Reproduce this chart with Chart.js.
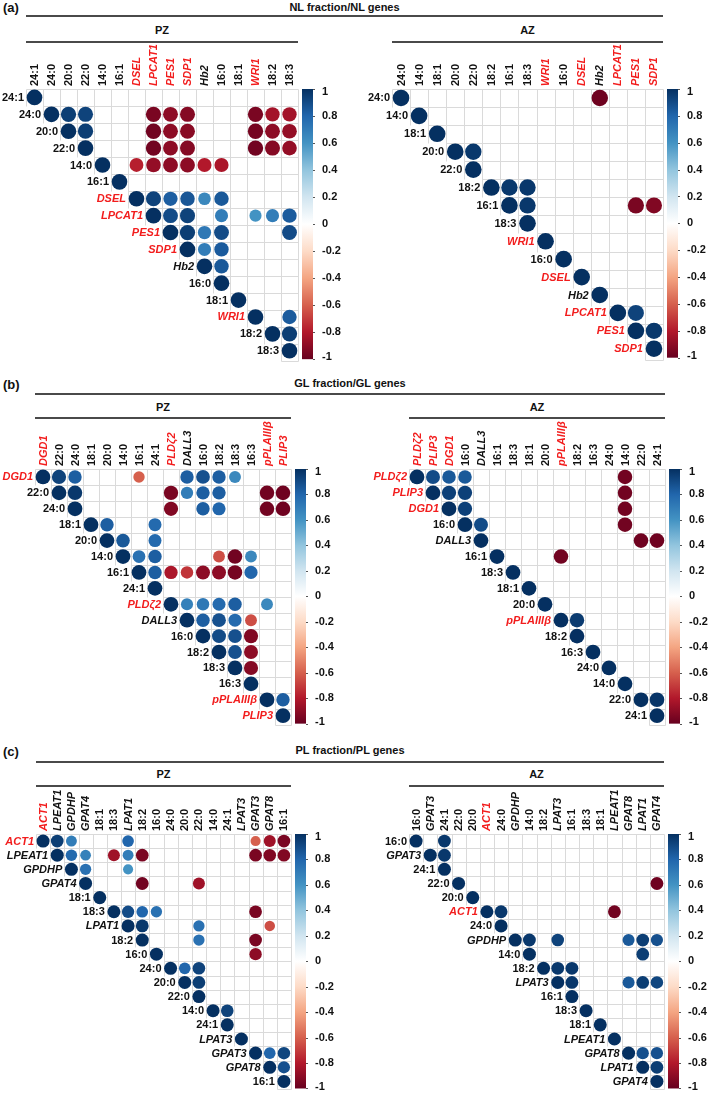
<!DOCTYPE html>
<html>
<head>
<meta charset="utf-8">
<script src="https://cdn.jsdelivr.net/npm/chart.js@4.4.1/dist/chart.umd.min.js"></script>
<style>
  html, body { margin: 0; padding: 0; overflow: hidden; background: #fff; }
  body { position: relative; width: 709px; height: 1099px; font-family: "Liberation Sans", Arial, sans-serif; }
  .t { position: absolute; font-weight: bold; font-size: 11px; line-height: 12px; color: #111; text-align: center; }
  .p { position: absolute; font-weight: bold; font-size: 13px; line-height: 14px; color: #111; }
  .rule { position: absolute; height: 2px; background: #4a4a4a; }
  canvas { position: absolute; }
</style>
</head>
<body>

<!-- (a) -->
<div class="p" style="left:3px;top:1px">(a)</div>
<div class="t" style="left:26px;width:637px;top:1px">NL fraction/NL genes</div>
<div class="rule" style="left:26px;width:637px;top:15px"></div>
<div class="t" style="left:26px;width:272px;top:24px">PZ</div>
<div class="rule" style="left:26px;width:272px;top:41px"></div>
<div class="t" style="left:392px;width:271px;top:24px">AZ</div>
<div class="rule" style="left:392px;width:271px;top:41px"></div>

<!-- (b) -->
<div class="p" style="left:3px;top:378px">(b)</div>
<div class="t" style="left:35px;width:630px;top:377px">GL fraction/GL genes</div>
<div class="rule" style="left:35px;width:630px;top:393px"></div>
<div class="t" style="left:35px;width:256px;top:401px">PZ</div>
<div class="rule" style="left:35px;width:256px;top:417px"></div>
<div class="t" style="left:409px;width:256px;top:401px">AZ</div>
<div class="rule" style="left:409px;width:256px;top:417px"></div>

<!-- (c) -->
<div class="p" style="left:3px;top:745px">(c)</div>
<div class="t" style="left:36px;width:628px;top:744px">PL fraction/PL genes</div>
<div class="rule" style="left:36px;width:628px;top:761px"></div>
<div class="t" style="left:36px;width:255px;top:768px">PZ</div>
<div class="rule" style="left:36px;width:255px;top:785px"></div>
<div class="t" style="left:409px;width:255px;top:768px">AZ</div>
<div class="rule" style="left:409px;width:255px;top:785px"></div>

<canvas id="nlPz"></canvas>
<canvas id="nlAz"></canvas>
<canvas id="glPz"></canvas>
<canvas id="glAz"></canvas>
<canvas id="plPz"></canvas>
<canvas id="plAz"></canvas>

<script>
// ===== DATA =====
const colorTicks = [1, 0.8, 0.6, 0.4, 0.2, 0, -0.2, -0.4, -0.6, -0.8, -1];

// (a) NL fraction / NL genes
const nlPzLabels = ['24:1', '24:0', '20:0', '22:0', '14:0', '16:1', 'DSEL', 'LPCAT1', 'PES1', 'SDP1', 'Hb2', '16:0', '18:1', 'WRI1', '18:2', '18:3'];
const nlPzRed = ['DSEL', 'LPCAT1', 'PES1', 'SDP1', 'WRI1'];
const nlPzCorr = [
    ['24:0', '20:0', 0.95], ['24:0', '22:0', 0.93], ['24:0', 'LPCAT1', -0.95], ['24:0', 'PES1', -0.9], ['24:0', 'SDP1', -0.92], ['24:0', 'WRI1', -0.95], ['24:0', '18:2', -0.84], ['24:0', '18:3', -0.84],
    ['20:0', '22:0', 0.95], ['20:0', 'LPCAT1', -0.97], ['20:0', 'PES1', -0.9], ['20:0', 'SDP1', -0.91], ['20:0', 'WRI1', -0.96], ['20:0', '18:2', -0.9], ['20:0', '18:3', -0.88],
    ['22:0', 'LPCAT1', -0.97], ['22:0', 'PES1', -0.9], ['22:0', 'SDP1', -0.92], ['22:0', 'WRI1', -0.97], ['22:0', '18:2', -0.92], ['22:0', '18:3', -0.88],
    ['14:0', 'DSEL', -0.78], ['14:0', 'LPCAT1', -0.88], ['14:0', 'PES1', -0.9], ['14:0', 'SDP1', -0.9], ['14:0', 'Hb2', -0.8], ['14:0', '16:0', -0.82],
    ['DSEL', 'LPCAT1', 0.93], ['DSEL', 'PES1', 0.83], ['DSEL', 'SDP1', 0.86], ['DSEL', 'Hb2', 0.65], ['DSEL', '16:0', 0.85],
    ['LPCAT1', 'PES1', 0.9], ['LPCAT1', 'SDP1', 0.93], ['LPCAT1', '16:0', 0.7], ['LPCAT1', 'WRI1', 0.6], ['LPCAT1', '18:2', 0.7], ['LPCAT1', '18:3', 0.84],
    ['PES1', 'SDP1', 0.95], ['PES1', 'Hb2', 0.72], ['PES1', '16:0', 0.9], ['PES1', '18:3', 0.9],
    ['SDP1', 'Hb2', 0.7], ['SDP1', '16:0', 0.84],
    ['Hb2', '16:0', 0.85],
    ['WRI1', '18:3', 0.84],
    ['18:2', '18:3', 0.95]
];

const nlAzLabels = ['24:0', '14:0', '18:1', '20:0', '22:0', '18:2', '16:1', '18:3', 'WRI1', '16:0', 'DSEL', 'Hb2', 'LPCAT1', 'PES1', 'SDP1'];
const nlAzRed = ['WRI1', 'DSEL', 'LPCAT1', 'PES1', 'SDP1'];
const nlAzCorr = [
    ['24:0', 'Hb2', -0.98],
    ['20:0', '22:0', 0.97],
    ['18:2', '16:1', 0.97], ['18:2', '18:3', 0.97],
    ['16:1', '18:3', 0.97], ['16:1', 'PES1', -0.95], ['16:1', 'SDP1', -0.93],
    ['LPCAT1', 'PES1', 0.93],
    ['PES1', 'SDP1', 0.97]
];

// (b) GL fraction / GL genes
const glPzLabels = ['DGD1', '22:0', '24:0', '18:1', '20:0', '14:0', '16:1', '24:1', 'PLDζ2', 'DALL3', '16:0', '18:2', '18:3', '16:3', 'pPLAIIIβ', 'PLIP3'];
const glPzRed = ['DGD1', 'PLDζ2', 'pPLAIIIβ', 'PLIP3'];
const glPzCorr = [
    ['DGD1', '22:0', 0.93], ['DGD1', '24:0', 0.83], ['DGD1', '16:1', -0.6], ['DGD1', 'DALL3', 0.83], ['DGD1', '16:0', 0.88], ['DGD1', '18:2', 0.83], ['DGD1', '18:3', 0.65],
    ['22:0', '24:0', 0.97], ['22:0', 'PLDζ2', -0.95], ['22:0', 'DALL3', 0.7], ['22:0', '16:0', 0.83], ['22:0', '18:2', 0.83], ['22:0', 'pPLAIIIβ', -0.97], ['22:0', 'PLIP3', -0.98],
    ['24:0', 'PLDζ2', -0.93], ['24:0', '16:0', 0.83], ['24:0', '18:2', 0.8], ['24:0', 'pPLAIIIβ', -0.97], ['24:0', 'PLIP3', -0.98],
    ['18:1', '20:0', 0.83], ['18:1', '24:1', 0.78],
    ['20:0', '14:0', 0.85], ['20:0', '24:1', 0.78],
    ['14:0', '16:1', 0.75], ['14:0', '24:1', 0.83], ['14:0', '18:2', -0.65], ['14:0', '18:3', -0.97], ['14:0', '16:3', 0.65],
    ['16:1', '24:1', 0.83], ['16:1', 'PLDζ2', -0.82], ['16:1', 'DALL3', -0.72], ['16:1', '16:0', -0.9], ['16:1', '18:2', -0.9], ['16:1', '18:3', -0.96], ['16:1', '16:3', 0.8],
    ['PLDζ2', 'DALL3', 0.68], ['PLDζ2', '16:0', 0.72], ['PLDζ2', '18:2', 0.78], ['PLDζ2', '18:3', 0.83], ['PLDζ2', 'pPLAIIIβ', 0.65],
    ['DALL3', '16:0', 0.83], ['DALL3', '18:2', 0.88], ['DALL3', '18:3', 0.78], ['DALL3', '16:3', -0.65],
    ['16:0', '18:2', 0.9], ['16:0', '18:3', 0.88], ['16:0', '16:3', -0.93],
    ['18:2', '18:3', 0.88], ['18:2', '16:3', -0.9],
    ['18:3', '16:3', -0.92],
    ['pPLAIIIβ', 'PLIP3', 0.83]
];

const glAzLabels = ['PLDζ2', 'PLIP3', 'DGD1', '16:0', 'DALL3', '16:1', '18:3', '18:1', '20:0', 'pPLAIIIβ', '18:2', '16:3', '24:0', '14:0', '22:0', '24:1'];
const glAzRed = ['PLDζ2', 'PLIP3', 'DGD1', 'pPLAIIIβ'];
const glAzCorr = [
    ['PLDζ2', 'PLIP3', 0.9], ['PLDζ2', 'DGD1', 0.85], ['PLDζ2', '16:0', 0.85], ['PLDζ2', '14:0', -0.97],
    ['PLIP3', 'DGD1', 0.94], ['PLIP3', '16:0', 0.94], ['PLIP3', '14:0', -0.97],
    ['DGD1', '16:0', 0.94], ['DGD1', '14:0', -0.97],
    ['16:0', 'DALL3', 0.9], ['16:0', '14:0', -0.97],
    ['DALL3', '22:0', -0.98], ['DALL3', '24:1', -0.98],
    ['16:1', 'pPLAIIIβ', -0.97],
    ['pPLAIIIβ', '18:2', 0.96],
    ['22:0', '24:1', 0.98]
];

// (c) PL fraction / PL genes
const plPzLabels = ['ACT1', 'LPEAT1', 'GPDHP', 'GPAT4', '18:1', '18:3', 'LPAT1', '18:2', '16:0', '24:0', '20:0', '22:0', '14:0', '24:1', 'LPAT3', 'GPAT3', 'GPAT8', '16:1'];
const plPzRed = ['ACT1'];
const plPzCorr = [
    ['ACT1', 'LPEAT1', 0.95], ['ACT1', 'GPDHP', 0.7], ['ACT1', 'LPAT1', 0.8], ['ACT1', 'GPAT3', -0.6], ['ACT1', 'GPAT8', -0.85], ['ACT1', '16:1', -0.95],
    ['LPEAT1', 'GPDHP', 0.78], ['LPEAT1', 'GPAT4', 0.68], ['LPEAT1', '18:3', -0.85], ['LPEAT1', 'LPAT1', 0.7], ['LPEAT1', '18:2', -0.95], ['LPEAT1', 'GPAT3', -0.95], ['LPEAT1', 'GPAT8', -0.93], ['LPEAT1', '16:1', -0.93],
    ['GPDHP', 'GPAT4', 0.75], ['GPDHP', 'LPAT1', 0.6],
    ['GPAT4', '18:2', -0.97], ['GPAT4', '22:0', -0.85],
    ['18:3', 'LPAT1', 0.9], ['18:3', '18:2', 0.8], ['18:3', '16:0', 0.75], ['18:3', 'GPAT3', -0.95],
    ['LPAT1', '18:2', 0.97], ['LPAT1', '22:0', 0.75], ['LPAT1', 'GPAT8', -0.65],
    ['18:2', '22:0', 0.75], ['18:2', 'GPAT3', -0.95],
    ['16:0', 'GPAT3', -0.9],
    ['24:0', '20:0', 0.8], ['24:0', '22:0', 0.93],
    ['20:0', '22:0', 0.95],
    ['14:0', '24:1', 0.93],
    ['GPAT3', 'GPAT8', 0.8], ['GPAT3', '16:1', 0.92],
    ['GPAT8', '16:1', 0.88]
];

const plAzLabels = ['16:0', 'GPAT3', '24:1', '22:0', '20:0', 'ACT1', '24:0', 'GPDHP', '14:0', '18:2', 'LPAT3', '16:1', '18:3', '18:1', 'LPEAT1', 'GPAT8', 'LPAT1', 'GPAT4'];
const plAzRed = ['ACT1'];
const plAzCorr = [
    ['16:0', '24:1', 0.97],
    ['GPAT3', '24:1', 0.97],
    ['22:0', 'GPAT4', -0.98],
    ['ACT1', '24:0', 0.97], ['ACT1', 'LPEAT1', -0.97],
    ['GPDHP', '14:0', 0.97], ['GPDHP', 'LPAT3', 0.93], ['GPDHP', 'GPAT8', 0.85], ['GPDHP', 'LPAT1', 0.95], ['GPDHP', 'GPAT4', 0.88],
    ['14:0', 'LPAT1', 0.95],
    ['18:2', 'LPAT3', 0.97], ['18:2', '16:1', 0.97],
    ['LPAT3', '16:1', 0.97], ['LPAT3', 'GPAT8', 0.85], ['LPAT3', 'LPAT1', 0.95], ['LPAT3', 'GPAT4', 0.92],
    ['GPAT8', 'LPAT1', 0.88], ['GPAT8', 'GPAT4', 0.88],
    ['LPAT1', 'GPAT4', 0.95]
];

// ===== HELPERS =====
const corrStops = ['#67001F', '#B2182B', '#D6604D', '#F4A582', '#FDDBC7', '#FFFFFF', '#D1E5F0', '#92C5DE', '#4393C3', '#2166AC', '#053061'];

function hexRgb(h) {
    return [parseInt(h.slice(1, 3), 16), parseInt(h.slice(3, 5), 16), parseInt(h.slice(5, 7), 16)];
}

function corrColor(v) {
    const p = (v + 1) / 2 * 10;
    const i = Math.min(9, Math.floor(p));
    const f = p - i;
    const a = hexRgb(corrStops[i]), b = hexRgb(corrStops[i + 1]);
    return 'rgb(' + a.map((c, k) => Math.round(c + (b[k] - c) * f)).join(',') + ')';
}

function labelFont(label) {
    return (label.indexOf(':') >= 0 ? 'bold ' : 'italic bold ') + '11px "Liberation Sans", Arial, sans-serif';
}

function corrDecor(labels, red) {
    return {
        id: 'corrDecor',
        beforeDatasetsDraw(chart) {
            const ctx = chart.ctx, x = chart.scales.x, y = chart.scales.y;
            const n = labels.length, c = chart.chartArea.width / n;
            // cell edges shared by neighbours, so every grid line lands on one pixel
            const xe = k => Math.round(x.getPixelForValue(0) - c / 2 + k * c) + 0.5;
            const ye = k => Math.round(y.getPixelForValue(0) - c / 2 + k * c) + 0.5;
            ctx.save();
            ctx.strokeStyle = '#dadada';
            ctx.lineWidth = 1;
            ctx.beginPath();
            for (let i = 0; i <= n; i++) {
                // horizontal edge i spans columns from min(i, n-1) .. n
                ctx.moveTo(xe(Math.min(i, n - 1)), ye(i));
                ctx.lineTo(xe(n), ye(i));
                // vertical edge i spans rows 0 .. min(i+1, n)
                ctx.moveTo(xe(i), ye(0));
                ctx.lineTo(xe(i), ye(Math.min(i + 1, n)));
            }
            ctx.stroke();
            ctx.restore();
        },
        afterDraw(chart) {
            const ctx = chart.ctx, x = chart.scales.x, y = chart.scales.y, area = chart.chartArea;
            const n = labels.length, c = area.width / n;
            ctx.save();

            // column labels (top, rotated)
            labels.forEach((l, j) => {
                ctx.save();
                ctx.font = labelFont(l);
                ctx.fillStyle = red.includes(l) ? '#f21d1d' : '#111';
                ctx.translate(x.getPixelForValue(j) + 0.5, area.top - 3);
                ctx.rotate(-Math.PI / 2);
                ctx.textAlign = 'left';
                ctx.textBaseline = 'middle';
                ctx.fillText(l, 0, 0);
                ctx.restore();
            });

            // row labels (left of the diagonal)
            ctx.textAlign = 'right';
            ctx.textBaseline = 'middle';
            labels.forEach((l, i) => {
                ctx.font = labelFont(l);
                ctx.fillStyle = red.includes(l) ? '#f21d1d' : '#111';
                ctx.fillText(l, x.getPixelForValue(i) - c / 2 - 2, y.getPixelForValue(i) + 0.5);
            });

            // colour legend
            const bx = area.right + 4, bw = 11;
            const grad = ctx.createLinearGradient(0, area.top, 0, area.bottom);
            corrStops.slice().reverse().forEach((col, k) => grad.addColorStop(k / 10, col));
            ctx.fillStyle = grad;
            ctx.fillRect(bx, area.top, bw, area.height);
            ctx.strokeStyle = '#555';
            ctx.lineWidth = 1;
            ctx.font = 'bold 11px "Liberation Sans", Arial, sans-serif';
            ctx.fillStyle = '#111';
            ctx.textAlign = 'left';
            colorTicks.forEach(t => {
                const ty = area.top + (1 - t) / 2 * area.height;
                ctx.beginPath();
                ctx.moveTo(bx + bw, Math.round(ty) + 0.5);
                ctx.lineTo(bx + bw + 2, Math.round(ty) + 0.5);
                ctx.stroke();
                ctx.fillText(String(t), bx + bw + 9, Math.min(Math.max(ty, area.top + 3), area.bottom - 2));
            });
            ctx.restore();
        }
    };
}

function corrChart(id, labels, red, corr, box) {
    const padL = box.padL, padT = 52, padR = 60, padB = 6;
    const cell = box.size / labels.length;
    const canvas = document.getElementById(id);
    canvas.width = box.size + padL + padR;
    canvas.height = box.size + padT + padB;
    canvas.style.left = (box.left - padL) + 'px';
    canvas.style.top = (box.top - padT) + 'px';

    const points = labels.map(l => ({ x: l, y: l, v: 1 }));
    corr.forEach(p => points.push({ x: p[1], y: p[0], v: p[2] }));

    new Chart(canvas, {
        type: 'bubble',
        data: {
            datasets: [{
                data: points,
                radius: ctx => ctx.raw ? cell * 0.46 * Math.sqrt(Math.abs(ctx.raw.v)) : cell * 0.46,
                backgroundColor: ctx => ctx.raw ? corrColor(ctx.raw.v) : '#053061',
                borderWidth: 0
            }]
        },
        options: {
            responsive: false,
            animation: false,
            events: [],
            devicePixelRatio: 1,
            layout: { padding: { left: padL, top: padT, right: padR, bottom: padB } },
            plugins: { legend: { display: false }, tooltip: { enabled: false } },
            scales: {
                x: { type: 'category', labels: labels, offset: true, display: false },
                y: { type: 'category', labels: labels, offset: true, display: false }
            }
        },
        plugins: [corrDecor(labels, red)]
    });
}

// ===== CHARTS =====
corrChart('nlPz', nlPzLabels, nlPzRed, nlPzCorr, { left: 26, top: 89, size: 272, padL: 26 });
corrChart('nlAz', nlAzLabels, nlAzRed, nlAzCorr, { left: 392, top: 89, size: 271, padL: 45 });
corrChart('glPz', glPzLabels, glPzRed, glPzCorr, { left: 35, top: 469, size: 256, padL: 35 });
corrChart('glAz', glAzLabels, glAzRed, glAzCorr, { left: 409, top: 469, size: 256, padL: 45 });
corrChart('plPz', plPzLabels, plPzRed, plPzCorr, { left: 36, top: 834, size: 255, padL: 36 });
corrChart('plAz', plAzLabels, plAzRed, plAzCorr, { left: 409, top: 834, size: 255, padL: 45 });
</script>
</body>
</html>
